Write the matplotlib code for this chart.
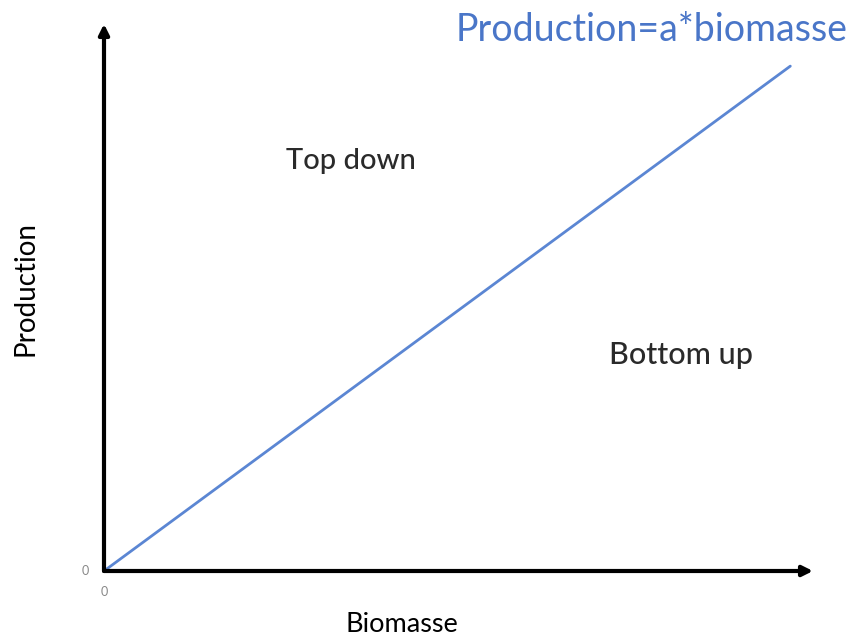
import matplotlib.pyplot as plt

# schematic: production proportional to biomass
biomasse = [0, 0.968]
production = [0, 0.923]
zone_labels = ["Top down", "Bottom up"]
zone_pos = [(0.348, 0.75), (0.814, 0.394)]
equation = "Production=a*biomasse"

plt.rcParams['font.family'] = ['Lato', 'DejaVu Sans']

fig = plt.figure(figsize=(8.51, 6.36), dpi=100)
ax = fig.add_axes([104 / 851, 65 / 636, 709 / 851, 547 / 636])
ax.set_xlim(0, 1)
ax.set_ylim(0, 1)
ax.axis("off")

ax.plot(biomasse, production, color="#5b86d3", lw=2, solid_capstyle="round")

# axes with arrowheads
arrow = dict(arrowstyle="-|>,head_length=0.6,head_width=0.3", color="black", lw=3, shrinkA=0, shrinkB=0)
ax.annotate("", xy=(1, 0), xytext=(0, 0), arrowprops=arrow, annotation_clip=False)
ax.annotate("", xy=(0, 1), xytext=(0, 0), arrowprops=arrow, annotation_clip=False)

ax.text(zone_pos[0][0], zone_pos[0][1], zone_labels[0], ha="center", va="center", fontsize=21, color="#2a2a2a", fontweight="medium")
ax.text(zone_pos[1][0], zone_pos[1][1], zone_labels[1], ha="center", va="center", fontsize=22, color="#2a2a2a", fontweight="medium")

ax.text(-0.027, 0, "0", ha="center", va="center", fontsize=9, color="#888888")
ax.text(0, -0.038, "0", ha="center", va="center", fontsize=9, color="#888888")

fig.text(848 / 851, 1 - 30 / 636, equation, ha="right", va="center", fontsize=27, color="#4a76c8")
fig.text(25 / 851, 1 - 288 / 636, "Production", rotation=90, ha="center", va="center", fontsize=20)
fig.text(402 / 851, 1 - 625 / 636, "Biomasse", ha="center", va="center", fontsize=19.5)

fig.savefig("out.png", dpi=100)
